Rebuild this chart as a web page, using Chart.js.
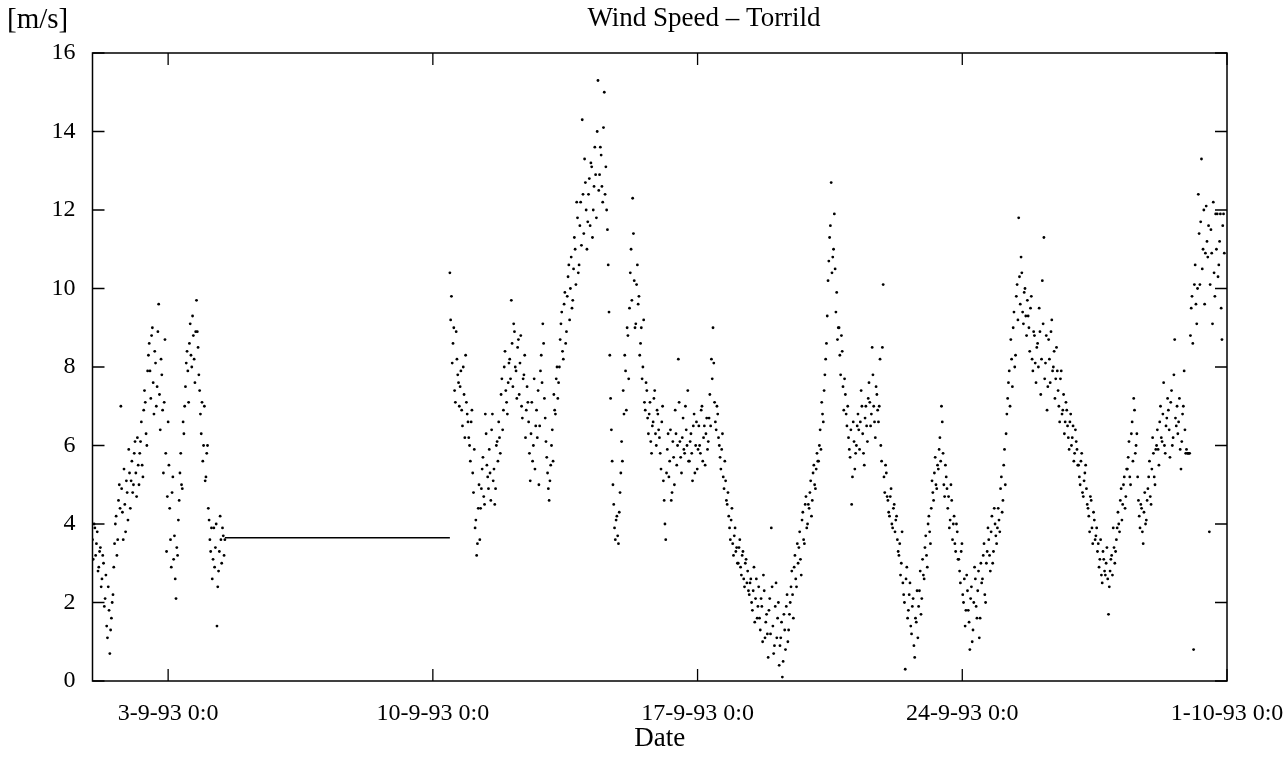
<!DOCTYPE html>
<html><head><meta charset="utf-8">
<script src="https://cdn.jsdelivr.net/npm/chart.js@4/dist/chart.umd.min.js"></script>
<style>html,body{margin:0;padding:0;background:#fff}#wrap{width:1288px;height:758px}</style>
</head><body><div id="wrap"><canvas id="c" width="1288" height="758"></canvas></div>
<script>
// time axis: days since 1-9-93 0:0
const tickDays = [2, 9, 16, 23, 30];
const tickLabels = ['3-9-93 0:0', '10-9-93 0:0', '17-9-93 0:0', '24-9-93 0:0', '1-10-93 0:0'];
const yTicks = [0, 2, 4, 6, 8, 10, 12, 14, 16];
const stepDays = 1 / 24; // hourly readings (plus half-hour readings offset by stepDays/2)

// first recording run, starting 1-9-93 0:0
const run1Start = 0;
const run1Speed = [
  3.6, 4.0, 3.2, 3.8, 2.9, 3.4, 2.6, 3.0, 2.1, 1.4, 2.4, 0.7,
  1.6, 2.2, 3.5, 4.2, 3.6, 5.0, 7.0, 4.3, 5.4, 3.8, 4.8, 5.9,
  4.4, 5.6, 5.0, 6.1, 4.7, 5.5, 5.8, 6.6, 5.2, 7.4, 6.3, 7.9,
  8.6, 7.2, 9.0, 6.8, 8.1, 7.5, 9.6, 6.4, 7.8, 5.3, 8.7, 3.3,
  6.6, 4.4, 2.9, 5.2, 3.7, 2.1, 3.2, 4.6, 5.8, 4.9, 6.3, 7.5,
  8.4, 7.1, 9.1, 8.0, 8.8, 7.6, 9.7, 8.5, 7.4, 6.3, 5.6, 7.0,
  5.2, 6.0, 4.1, 3.3, 2.6, 3.9, 3.4, 1.4, 2.8, 4.2, 3.0, 3.7, 3.6
];
const run1HalfHour = [
  3.1, 3.9, 3.5, 2.8, 3.3, 2.4, 3.2, 1.9, 2.7, 1.1, 1.8, 1.3,
  2.0, 2.9, 4.0, 3.2, 4.6, 4.4, 4.9, 3.6, 4.5, 5.1, 4.1, 5.3,
  5.1, 4.8, 5.8, 5.3, 6.2, 5.0, 6.1, 5.5, 6.9, 7.1, 6.0, 8.3,
  7.9, 8.8, 7.6, 8.4, 7.0, 8.9, 7.3, 8.2, 6.9, 7.1, 5.8, 4.7,
  5.5, 3.6, 4.8, 3.1, 2.6, 3.4, 4.1, 5.3, 5.0, 6.6, 7.0, 8.1,
  7.9, 8.6, 8.3, 9.3, 8.2, 8.9, 8.9, 7.8, 6.8, 7.1, 6.0, 5.1,
  5.8, 4.4, 3.6, 3.9, 3.1, 2.9, 4.0, 2.4, 3.3, 3.6, 3.9, 3.2
];

// constant value held while the logger was down
const holdStart = 3.5;
const holdEnd = 9.45;
const holdSpeed = 3.65;

// second recording run
const run2Start = 9.45;
const run2Speed = [
  10.4, 9.8, 8.6, 7.4, 8.9, 7.8,   7.0, 7.9, 6.5, 7.3, 8.3, 6.8,   6.2, 5.6, 6.9, 4.8, 3.9, 3.2, 4.4,
  3.6, 4.9, 5.7, 4.5, 6.3, 5.2,    5.9, 4.6, 6.8, 5.4, 4.9, 6.1,   6.6, 5.8, 7.7, 6.9, 8.4, 7.1, 7.6,
  8.2, 9.7, 7.5, 8.9, 7.9, 8.5,    7.3, 8.8, 6.7, 7.8, 6.2, 7.5,   6.6, 5.1, 7.1, 6.0, 5.4, 6.9, 7.4,
  6.5, 8.3, 9.1, 7.2, 6.1, 5.3,    4.6, 5.5, 6.4, 7.3, 6.8, 8.0,   7.6, 8.7, 9.4, 8.2, 9.9, 8.9, 10.3,
  9.2, 10.8, 9.7, 11.3, 10.1, 11.8, 10.6, 12.2, 14.3, 11.4, 12.7, 11.0, 12.4, 11.6, 13.1, 12.0, 13.6, 11.8, 15.3,
  12.9, 13.4, 12.2, 15.0, 13.1, 11.5, 9.4, 7.2, 5.6, 4.5, 3.6, 4.2, 3.5, 4.8, 6.1, 7.4, 8.3, 6.9, 8.8,
  9.5, 11.0, 12.3, 10.2, 9.1, 10.6, 9.8, 8.6, 7.7, 9.2, 6.9, 7.4,  6.3, 7.1, 5.8, 6.6, 7.4, 6.0, 6.8,
  6.2, 5.4, 7.0, 4.6, 3.6, 5.9,    5.2, 6.4, 4.8, 5.7, 6.9, 5.5,   8.2, 6.1, 5.3, 6.7, 5.8, 6.4, 7.4,
  5.6, 6.3, 5.1, 6.8, 6.0, 5.4,    6.5, 5.8, 7.0, 6.2, 5.5, 6.7,   6.1, 7.3, 8.2, 9.0, 7.1, 6.4, 6.8,
  6.0, 5.4, 6.3, 4.9, 5.1, 4.5,    4.2, 3.6, 4.4, 3.2, 3.9, 3.4,   3.0, 3.6, 2.7, 3.3, 2.4, 3.1, 2.8,
  2.2, 2.6, 1.8, 2.9, 2.1, 1.6,    2.4, 1.3, 1.9, 2.7, 1.1, 1.7,   0.6, 2.1, 3.9, 1.4, 0.9, 2.5, 1.6,
  0.4, 1.1, 0.1, 1.7, 0.8, 2.2,    1.3, 2.0, 2.8, 1.6, 3.2, 2.4,   3.0, 3.8, 2.7, 4.3, 3.5, 4.7, 4.0,
  4.4, 5.1, 4.6, 5.5, 4.9, 5.8,    5.6, 6.4, 7.1, 6.6, 7.8, 8.6,   10.2, 11.3, 12.7, 10.8, 11.9, 9.4, 8.7,
  9.0, 7.8, 8.4, 6.9, 7.3, 6.5,    6.2, 5.7, 4.5, 6.6, 5.4, 6.0,   6.8, 5.9, 7.4, 6.3, 5.5, 7.0, 6.1,
  7.6, 6.5, 8.5, 7.0, 6.2, 7.3,    6.6, 8.2, 5.6, 10.1, 4.8, 5.3,  4.6, 4.2, 4.9, 3.9, 4.5, 4.1, 3.6,
  3.2, 2.7, 3.8, 2.2, 0.3, 2.9,    1.8, 2.5, 1.2, 2.1, 0.6, 1.5,   1.1, 2.3, 1.7, 3.1, 2.6, 3.7, 2.9,
  4.2, 3.5, 5.1, 4.6, 5.7, 4.9,    5.4, 6.2, 7.0, 5.8, 4.7, 5.2,   4.4, 3.9, 5.0, 3.6, 4.2, 3.3, 3.8,
  3.1, 2.5, 3.5, 2.0, 1.4, 2.7,    1.8, 0.8, 2.4, 1.3, 2.9, 1.9,   2.3, 1.1, 3.0, 2.6, 3.5, 2.0, 3.3,
  3.6, 2.8, 4.2, 3.3, 4.0, 3.5,    4.4, 3.8, 5.2, 4.6, 5.9, 6.3,   7.2, 7.9, 8.7, 7.5, 9.4, 8.3, 10.1,
  11.8, 9.6, 10.4, 9.1, 10.0, 8.8, 9.3, 8.4, 9.8, 7.9, 8.8, 7.6,  8.6, 9.5, 7.3, 10.2, 11.3, 8.1, 6.9,
  8.7, 7.6, 9.2, 8.0, 7.2, 8.5,    7.4, 6.6, 7.9, 6.9, 6.3, 7.1,   6.5, 5.9, 6.8, 6.2, 5.6, 6.4, 5.9,
  5.5, 5.0, 5.8, 4.7, 5.3, 4.9,    4.4, 3.8, 4.6, 3.5, 4.1, 3.7,   3.3, 2.9, 3.6, 2.5, 3.1, 2.7, 3.4,
  1.7, 2.8, 3.2, 3.9, 3.0, 3.6,    4.3, 3.8, 4.9, 4.5, 5.2, 4.7,   5.4, 6.1, 5.0, 6.6, 7.2, 5.8, 6.3,
  4.6, 3.9, 4.4, 3.5, 4.8, 4.1,    4.9, 5.6, 4.5, 6.2, 5.2, 5.9,   6.4, 5.5, 7.0, 6.1, 7.6, 5.8, 6.7,
  6.9, 5.7, 7.4, 6.2, 8.7, 6.5,    6.3, 7.2, 5.4, 6.8, 7.9, 5.8,   5.8, 5.8, 8.8, 9.8, 0.8, 10.6, 9.1,
  12.4, 10.1, 13.3, 11.0, 9.6, 12.1, 10.8, 3.8, 11.5, 9.1, 10.4, 11.9, 11.9, 10.6, 11.9, 8.7, 11.9
];
const run2HalfHour = [
  9.2, 8.1, 9.0, 7.1, 8.2, 7.6,    7.5, 6.9, 8.0, 6.2, 7.1, 6.6,   6.0, 6.6, 5.3, 5.9, 4.1, 3.5, 5.0,
  4.4, 5.4, 4.7, 6.8, 5.5, 4.9,    5.3, 6.4, 5.1, 4.5, 6.0, 5.6,   6.2, 7.3, 6.4, 8.0, 7.4, 6.8, 8.1,
  7.7, 8.6, 9.1, 8.0, 7.2, 8.7,    8.1, 7.0, 7.7, 8.3, 6.9, 7.1,   5.8, 6.3, 5.6, 7.7, 6.5, 6.2, 5.0,
  7.9, 7.6, 8.6, 6.7, 5.7, 4.9,    5.1, 6.0, 5.6, 6.9, 7.7, 7.2,   8.0, 9.1, 8.4, 9.6, 8.6, 9.8, 10.6,
  10.0, 9.5, 10.5, 11.0, 12.2, 10.4, 11.6, 11.1, 12.4, 13.3, 12.0, 11.7, 12.8, 13.2, 11.3, 12.6, 12.9, 14.0, 12.5,
  13.6, 12.6, 14.1, 12.4, 12.0, 10.6, 8.3, 6.4, 5.0, 3.9, 4.1, 3.7, 4.3, 5.3, 5.6, 6.8, 7.9, 9.0, 7.7,
  10.4, 9.7, 11.4, 9.0, 10.1, 9.6, 8.3, 9.0, 8.0, 7.1, 7.6, 6.7,  6.8, 6.1, 6.5, 7.2, 6.3, 6.9, 6.4,
  5.8, 6.6, 5.1, 4.0, 5.3, 6.3,    5.6, 4.6, 6.1, 5.0, 6.3, 6.0,   7.1, 5.7, 6.2, 5.9, 7.0, 6.0, 5.6,
  6.1, 5.8, 6.5, 5.3, 6.6, 5.9,    6.0, 6.9, 5.6, 6.5, 6.3, 5.9,   6.7, 6.5, 7.7, 8.1, 6.6, 7.0, 6.2,
  5.7, 5.9, 5.2, 5.6, 4.6, 4.8,    3.9, 4.1, 3.5, 3.7, 3.3, 3.0,   3.4, 2.9, 3.2, 2.6, 3.0, 2.5, 2.3,
  2.5, 2.0, 2.3, 1.5, 2.6, 1.9,    1.6, 2.1, 1.0, 2.3, 1.5, 1.2,   1.8, 1.2, 2.4, 0.7, 1.9, 1.1, 2.0,
  0.9, 1.5, 0.5, 1.3, 1.9, 1.0,    1.7, 2.4, 2.2, 2.9, 2.6, 3.5,   3.4, 3.1, 4.1, 3.6, 4.5, 3.9, 4.5,
  4.8, 4.2, 5.3, 5.0, 5.4, 5.6,    6.0, 5.9, 6.8, 7.4, 8.2, 9.3,   10.7, 11.6, 10.4, 11.0, 10.5, 9.9, 9.0,
  8.3, 8.8, 7.5, 7.7, 6.8, 7.0,    5.9, 6.4, 5.2, 6.1, 5.8, 6.5,   6.4, 6.6, 7.0, 5.8, 6.7, 6.5, 7.2,
  7.1, 6.8, 7.8, 6.6, 7.5, 6.9,    7.0, 6.0, 8.5, 5.2, 5.5, 4.7,   4.3, 4.7, 4.0, 4.4, 3.8, 4.2, 3.3,
  3.5, 3.0, 2.5, 2.0, 2.6, 1.6,    2.2, 1.4, 1.9, 0.9, 1.6, 2.3,   1.9, 2.8, 2.1, 2.7, 3.4, 3.2, 4.0,
  3.8, 4.4, 4.8, 5.3, 5.0, 5.5,    5.9, 5.6, 6.6, 5.0, 5.5, 4.9,   4.7, 4.1, 4.6, 4.0, 3.5, 4.0, 3.1,
  2.8, 3.3, 2.2, 2.6, 1.8, 2.3,    1.5, 2.1, 1.0, 2.0, 2.6, 1.6,   2.8, 1.6, 2.5, 3.2, 2.2, 3.0, 3.9,
  3.2, 3.8, 3.0, 4.4, 3.7, 3.9,    4.1, 4.9, 4.3, 5.5, 5.0, 6.8,   7.6, 7.0, 8.2, 9.0, 8.0, 9.8, 9.2,
  10.3, 10.8, 9.4, 9.9, 9.3, 9.7,  9.0, 9.5, 8.2, 8.9, 8.1, 8.5,   8.0, 8.9, 8.2, 9.1, 7.7, 8.8, 7.5,
  8.2, 8.9, 7.9, 8.4, 7.7, 7.9,    7.0, 7.7, 6.8, 7.3, 6.6, 6.9,   6.2, 6.6, 6.0, 6.5, 5.8, 6.1, 5.5,
  5.2, 5.6, 4.8, 5.1, 5.5, 4.5,    4.2, 4.7, 3.9, 4.3, 3.6, 3.9,   3.5, 3.1, 2.7, 3.3, 2.8, 3.0, 2.6,
  2.4, 3.1, 2.7, 3.4, 3.3, 3.9,    4.0, 4.6, 4.1, 5.0, 4.4, 5.4,   5.7, 5.2, 6.3, 5.6, 6.9, 6.0, 5.2,
  4.2, 4.5, 3.8, 4.3, 4.0, 4.6,    5.2, 4.7, 5.4, 5.8, 5.0, 6.0,   5.9, 6.6, 6.2, 6.8, 6.0, 6.5, 7.2,
  6.4, 7.1, 6.0, 7.8, 6.7, 7.0,    6.6, 5.9, 6.1, 7.0, 6.4, 5.9,   5.8, 5.8, 9.5, 8.6, 10.1, 9.6, 10.0,
  11.4, 11.7, 10.5, 12.0, 10.9, 11.2, 11.6, 10.1, 10.9, 12.2, 9.8, 11.0, 10.3, 11.2, 9.5, 11.6, 10.9
];

const toPoints = (start, arr) => arr.map((v, i) => ({ x: start + i * stepDays, y: v }));

const serif = '"Liberation Serif", "Times New Roman", serif';

const framePlugin = {
  id: 'frame',
  afterDraw(chart) {
    const { ctx, chartArea: a, scales: { x, y } } = chart;
    const L = 12;
    ctx.save();
    ctx.strokeStyle = '#000';
    ctx.lineWidth = 1.5;
    ctx.strokeRect(a.left, a.top, a.right - a.left, a.bottom - a.top);
    ctx.lineWidth = 1.3;
    ctx.beginPath();
    tickDays.forEach(d => {
      const px = x.getPixelForValue(d);
      ctx.moveTo(px, a.bottom); ctx.lineTo(px, a.bottom - L);
      ctx.moveTo(px, a.top); ctx.lineTo(px, a.top + L);
    });
    yTicks.forEach(v => {
      const py = y.getPixelForValue(v);
      ctx.moveTo(a.left, py); ctx.lineTo(a.left + L, py);
      ctx.moveTo(a.right, py); ctx.lineTo(a.right - L, py);
    });
    ctx.stroke();
    ctx.fillStyle = '#000';
    ctx.textBaseline = 'alphabetic';
    ctx.textAlign = 'center';
    ctx.font = '27px ' + serif;
    ctx.fillText('Wind Speed \u2013 Torrild', 704, 26);
    ctx.textAlign = 'left';
    ctx.font = '29px ' + serif;
    ctx.fillText('[m/s]', 7, 28);
    ctx.restore();
  }
};

const dotStyle = { pointRadius: 1.4, pointBorderWidth: 0, backgroundColor: '#000', borderColor: '#000' };

new Chart(document.getElementById('c'), {
  type: 'scatter',
  data: {
    datasets: [
      Object.assign({ label: 'run1', data: toPoints(run1Start, run1Speed).concat(toPoints(run1Start + stepDays / 2, run1HalfHour)) }, dotStyle),
      { label: 'hold', type: 'line', data: [{ x: holdStart, y: holdSpeed }, { x: holdEnd, y: holdSpeed }], showLine: true, pointRadius: 0, borderWidth: 1.6, borderColor: '#000' },
      Object.assign({ label: 'run2', data: toPoints(run2Start, run2Speed).concat(toPoints(run2Start + stepDays / 2, run2HalfHour)) }, dotStyle)
    ]
  },
  options: {
    responsive: false,
    animation: false,
    devicePixelRatio: 1,
    layout: { padding: { left: 0, right: 61, top: 53, bottom: 0 } },
    plugins: { legend: { display: false }, tooltip: { enabled: false }, title: { display: false } },
    scales: {
      x: {
        type: 'linear', min: 0, max: 30,
        afterBuildTicks: s => { s.ticks = tickDays.map(v => ({ value: v })); },
        afterFit: s => { s.height = 77; s.paddingLeft = 0; s.paddingRight = 0; },
        grid: { display: false },
        border: { display: false },
        ticks: { autoSkip: false, maxRotation: 0, padding: 10, color: '#000', font: { family: serif, size: 24 },
                 callback: (v, i) => tickLabels[i] },
        title: { display: true, text: 'Date', color: '#000', font: { family: serif, size: 27 }, padding: { top: 0, bottom: 3 } }
      },
      y: {
        min: 0, max: 16,
        afterBuildTicks: s => { s.ticks = yTicks.map(v => ({ value: v })); },
        afterFit: s => { s.width = 92.5; s.paddingTop = 0; s.paddingBottom = 0; },
        grid: { display: false },
        border: { display: false },
        ticks: { padding: 9, color: '#000', font: { family: serif, size: 24 } }
      }
    }
  },
  plugins: [framePlugin]
});
</script>
</body></html>
